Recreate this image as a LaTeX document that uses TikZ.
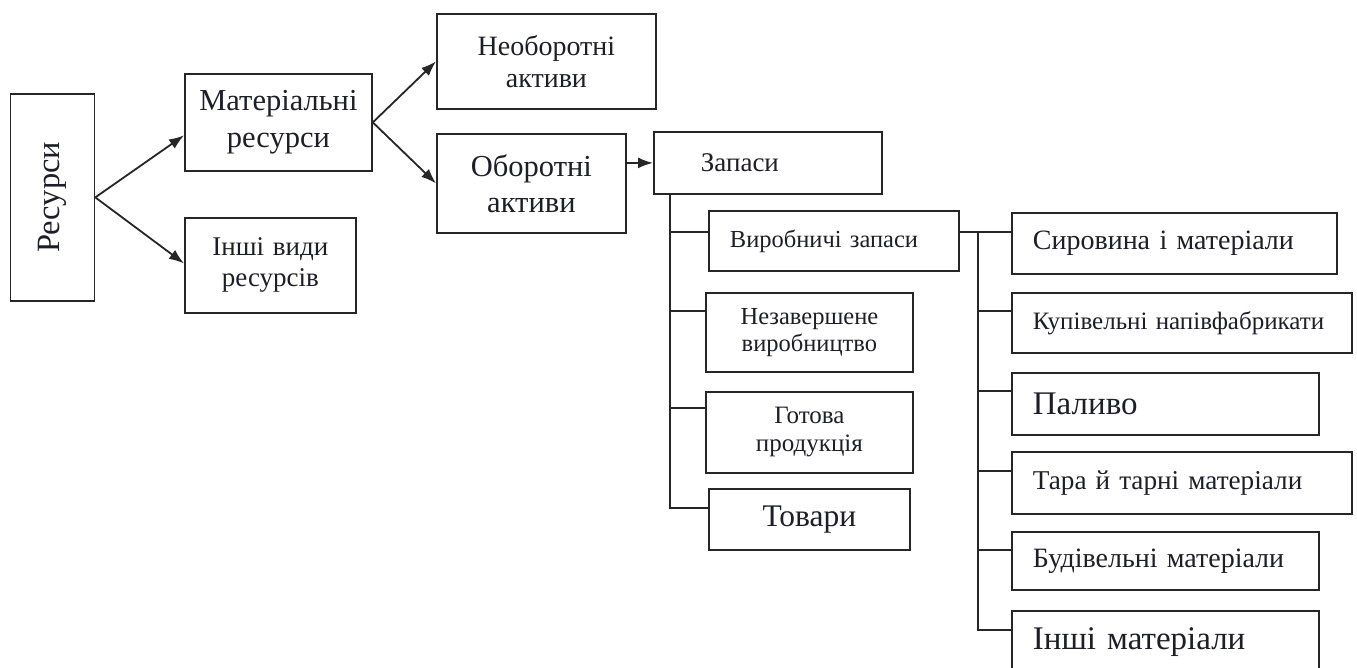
\documentclass[tikz,border=0pt]{standalone}
\usepackage{fontspec}
\setmainfont{Liberation Serif}[WordSpace=1.3]
\usepackage{graphicx}
\usetikzlibrary{arrows.meta,calc}
\definecolor{ln}{HTML}{262626}
\definecolor{tx}{HTML}{1E1E28}
\newcommand{\fs}[2]{\fontsize{#1}{#2}\selectfont}
\tikzset{
  box/.style={draw=ln, line width=1.8pt, inner sep=0pt, anchor=north west, text=tx, align=center},
  lbox/.style={box, align=left},
  arr/.style={draw=ln, line width=1.8pt, -{Latex[length=15pt,width=11pt]}},
  tline/.style={draw=ln, line width=1.8pt}
}
\begin{document}
\begin{tikzpicture}[x=1pt,y=-1pt]
\useasboundingbox (0,0) rectangle (1357,668);
\clip (0,0) rectangle (1357,668);
\fill[white] (0,0) rectangle (1357,668);
% left part
\node[box, minimum width=84pt, minimum height=207pt] (res) at (9.5,93) {\rotatebox{90}{\fs{32.5}{32.5}Ресурси}};
\node[box, minimum width=187pt, minimum height=97pt, font=\fs{30.5}{37}] (mat) at (184,73) {Матеріальні\\ресурси};
\node[box, minimum width=171pt, minimum height=95pt, font=\fs{27}{31}] (inv) at (184,217) {Інші види\\ресурсів};
\node[box, minimum width=219pt, minimum height=95pt, font=\fs{28}{32}] (neo) at (436,13) {Необоротні\\активи};
\node[box, minimum width=189pt, minimum height=99pt, font=\fs{30.5}{36}] (ob) at (436,133) {Оборотні\\активи};
\node[lbox, minimum width=228pt, minimum height=62pt, text width=228pt, font=\fs{27}{27}] (zap) at (653,131) {\hspace*{47pt}Запаси};
% middle column
\node[lbox, minimum width=250pt, minimum height=60pt, text width=250pt, font=\fs{24.5}{24.5}] (vyr) at (708,210) {\hspace*{21pt}Виробничі запаси};
\node[box, minimum width=207pt, minimum height=79pt, font=\fs{24.5}{27}] (nez) at (705,292) {Незавершене\\виробництво};
\node[box, minimum width=207pt, minimum height=81pt, font=\fs{25}{28}] (got) at (705,391) {Готова\\продукція};
\node[box, minimum width=201pt, minimum height=61pt, font=\fs{31.5}{31.5}] (tov) at (708,488) {Товари};
% right column
\node[lbox, minimum width=325pt, minimum height=61pt, text width=325pt, font=\fs{28}{28}] (syr) at (1011,212) {\hspace*{21pt}Сировина і матеріали};
\node[lbox, minimum width=340pt, minimum height=60pt, text width=340pt, font=\fs{25}{25}] (kup) at (1011,292) {\hspace*{21pt}Купівельні напівфабрикати};
\node[lbox, minimum width=307pt, minimum height=62pt, text width=307pt, font=\fs{33}{33}] (pal) at (1011,372) {\hspace*{21pt}Паливо};
\node[lbox, minimum width=340pt, minimum height=62pt, text width=340pt, font=\fs{27.2}{27.2}] (tar) at (1011,451) {\hspace*{21pt}Тара й тарні матеріали};
\node[lbox, minimum width=307pt, minimum height=58pt, text width=307pt, font=\fs{28}{28}] (bud) at (1011,531) {\hspace*{21pt}Будівельні матеріали};
\node[lbox, minimum width=307pt, minimum height=62pt, text width=307pt, font=\fs{33}{33}] (inm) at (1011,610) {\hspace*{21pt}Інші матеріали};
% arrows
\draw[arr] (res.east) -- ([yshift=-13pt]mat.west);
\draw[arr] (res.east) -- ([yshift=2pt]inv.west);
\draw[arr] (mat.east) -- (neo.west);
\draw[arr] (mat.east) -- (ob.west);
\draw[arr] (ob.east |- zap.west) -- (zap.west);
% tree from Запаси
\coordinate (tz) at ([xshift=17pt]zap.south west);
\coordinate (bvyr) at ([yshift=-22pt]vyr.north west);
\coordinate (bnez) at ([yshift=-19pt]nez.north west);
\coordinate (bgot) at ([yshift=-17pt]got.north west);
\coordinate (btov) at ([yshift=-20pt]tov.north west);
\draw[tline] (tz) |- (btov);
\draw[tline] (tz |- bvyr) -- (bvyr);
\draw[tline] (tz |- bnez) -- (bnez);
\draw[tline] (tz |- bgot) -- (bgot);
% tree from Виробничі запаси
\coordinate (vs) at ([yshift=-22pt]vyr.north east);
\coordinate (tr) at ([xshift=18pt]vs);
\coordinate (bsyr) at (syr.west |- vs);
\coordinate (bkup) at ([yshift=-19pt]kup.north west);
\coordinate (bpal) at ([yshift=-19pt]pal.north west);
\coordinate (btar) at ([yshift=-20pt]tar.north west);
\coordinate (bbud) at ([yshift=-19pt]bud.north west);
\coordinate (binm) at ([yshift=-20pt]inm.north west);
\draw[tline] (vs) -- (bsyr);
\draw[tline] (tr) |- (binm);
\draw[tline] (tr |- bkup) -- (bkup);
\draw[tline] (tr |- bpal) -- (bpal);
\draw[tline] (tr |- btar) -- (btar);
\draw[tline] (tr |- bbud) -- (bbud);
\end{tikzpicture}
\end{document}
